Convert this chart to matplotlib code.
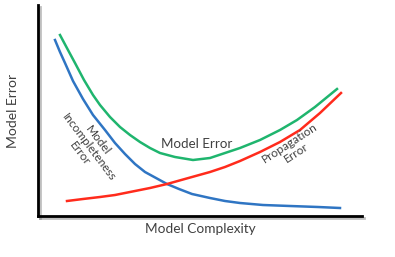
import matplotlib
matplotlib.use("Agg")
import matplotlib.pyplot as plt
import matplotlib.patheffects as pe

plt.rcParams['font.family'] = ['Lato', 'DejaVu Sans']

# Data (x: model complexity, y: error)
blue_x = [17, 22, 27, 35, 45, 55, 67, 77, 87, 97, 107, 118, 129, 141, 154, 172, 187, 202, 225, 252, 280, 302]
blue_y = [176, 164, 153, 135, 117, 101, 86, 73, 62, 52, 44, 38, 32, 27, 22, 18, 15, 13, 11, 10, 9, 8]

green_x = [22, 30, 37, 46, 55, 62, 72, 82, 92, 102, 112, 122, 137, 155, 172, 187, 202, 222, 242, 259, 277, 299]
green_y = [181, 166, 153, 136, 121, 111, 99, 89, 81, 74, 68, 63, 59, 56, 58, 63, 68, 76, 86, 96, 109, 127]

red_x = [29, 45, 62, 77, 92, 112, 129, 154, 172, 187, 202, 222, 242, 262, 282, 303]
red_y = [15, 17, 19, 21, 24, 28, 32, 39, 44, 49, 55, 64, 74, 86, 103, 123]

label_color = '#404040'

fig = plt.figure(figsize=(3.95, 2.57), dpi=100)
ax = fig.add_axes([38/395, (257-216)/257, (362-38)/395, (216-5)/257])

ax.plot(blue_x, blue_y, color='#2f75c3', lw=1.8, solid_joinstyle='round')
ax.plot(green_x, green_y, color='#1fb56e', lw=1.8, solid_joinstyle='round')
ax.plot(red_x, red_y, color='#ff2b1c', lw=1.8, solid_joinstyle='round')

ax.set_xlim(0, 324)
ax.set_ylim(0, 211)
ax.set_xticks([])
ax.set_yticks([])
for s in ['top', 'right']:
    ax.spines[s].set_visible(False)
for s in ['left', 'bottom']:
    ax.spines[s].set_linewidth(2.0)
    ax.spines[s].set_color('black')
    ax.spines[s].set_path_effects([pe.SimpleLineShadow(offset=(1.5, -1.5), shadow_color='gray', alpha=0.5), pe.Normal()])

ax.set_xlabel('Model Complexity', fontsize=9.8, color=label_color, labelpad=5)
ax.set_ylabel('Model Error', fontsize=10, color=label_color, labelpad=14)

ax.text(159, 72, 'Model Error', fontsize=9.6, color=label_color, ha='center', va='center')
ax.text(51, 69, 'Model\nIncompleteness\nError', fontsize=8.6, color=label_color,
        ha='center', va='center', rotation=-53, linespacing=1.0, rotation_mode='anchor')
ax.text(255, 68, 'Propagation\nError', fontsize=8.6, color=label_color,
        ha='center', va='center', rotation=33, linespacing=1.0, rotation_mode='anchor')

fig.savefig('out.png', dpi=100)
